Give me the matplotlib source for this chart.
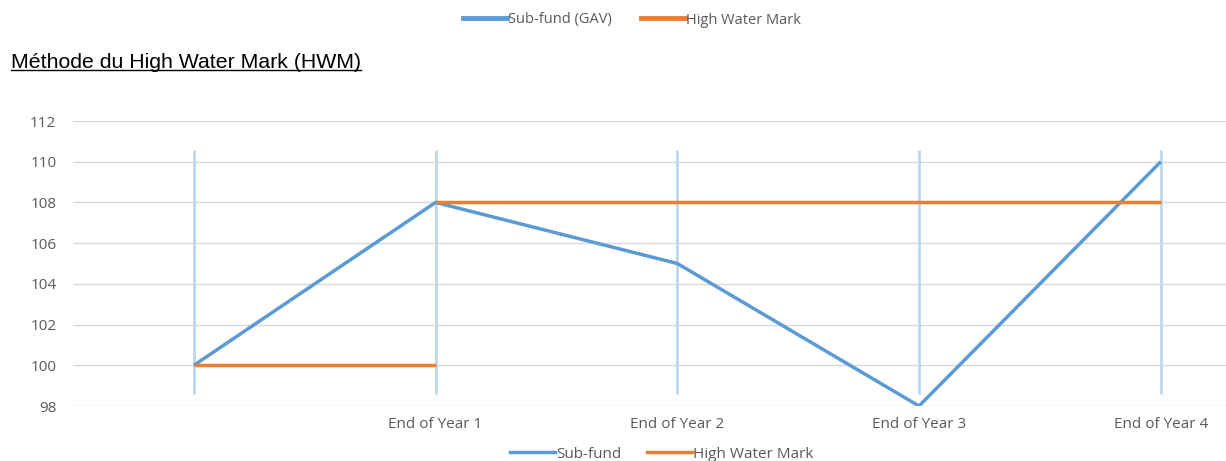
import matplotlib
matplotlib.use("Agg")
import matplotlib.pyplot as plt
import numpy as np
from matplotlib.lines import Line2D

# data
categories = ["", "End of Year 1", "End of Year 2", "End of Year 3", "End of Year 4"]
sub_fund = [100, 108, 105, 98, 110]
hwm_start = [100, 100, np.nan, np.nan, np.nan]
hwm_after = [np.nan, 108, 108, 108, 108]
y_ticks = [98, 100, 102, 104, 106, 108, 110, 112]
drop_low, drop_high = 98.6, 110.6

BLUE = "#5b9bd5"
ORANGE = "#ed7d31"
LIGHT_BLUE = "#bdd7ee"
GRID = "#d9d9d9"
TXT = "#595959"

plt.rcParams["font.family"] = ["Open Sans", "DejaVu Sans"]

fig = plt.figure(figsize=(12.26, 4.61), dpi=100)
ax = fig.add_axes([73 / 1226, 55 / 461, 1 - 73 / 1226, 285 / 461])

x = np.arange(len(categories))

# drop lines at each category
ax.vlines(x, drop_low, drop_high, color=LIGHT_BLUE, lw=2, zorder=2)

ax.plot(x, sub_fund, color=BLUE, lw=2.5, zorder=3, solid_capstyle="butt")
ax.plot(x, hwm_start, color=ORANGE, lw=2.5, zorder=3, solid_capstyle="butt")
ax.plot(x, hwm_after, color=ORANGE, lw=2.5, zorder=3, solid_capstyle="butt")

ax.set_xlim(-0.5, 4.27)
ax.set_ylim(98, 112)
ax.set_yticks(y_ticks)
ax.set_xticks(x)
ax.set_xticklabels(categories)
ax.yaxis.grid(True, color=GRID, lw=1)
ax.set_axisbelow(True)
for s in ax.spines.values():
    s.set_visible(False)
ax.tick_params(length=0, colors=TXT, labelsize=11)
ax.tick_params(axis="y", pad=12)
ax.tick_params(axis="x", pad=8)

# title with underline
title = fig.text(11 / 1226, 1 - 62 / 461, "Méthode du High Water Mark (HWM)",
                 family="Liberation Sans", fontsize=15.3, color="black", va="center", ha="left")
fig.canvas.draw()
bb = title.get_window_extent().transformed(fig.transFigure.inverted())
fig.add_artist(Line2D([bb.x0, bb.x1], [bb.y0 + 0.004, bb.y0 + 0.004],
                      transform=fig.transFigure, color="black", lw=1))

# top legend
top_handles = [Line2D([], [], color=BLUE, lw=3.5), Line2D([], [], color=ORANGE, lw=3.5)]
fig.legend(top_handles, ["Sub-fund (GAV)", "High Water Mark"], loc="center",
           bbox_to_anchor=(632 / 1226, 1 - 20 / 461), ncol=2, frameon=False,
           fontsize=10.5, labelcolor=TXT, handlelength=3.0, handletextpad=0.1, columnspacing=2.0)

# bottom legend
bot_handles = [Line2D([], [], color=BLUE, lw=2.5), Line2D([], [], color=ORANGE, lw=2.5)]
fig.legend(bot_handles, ["Sub-fund", "High Water Mark"], loc="center",
           bbox_to_anchor=(662 / 1226, 1 - 454 / 461), ncol=2, frameon=False,
           fontsize=11, labelcolor=TXT, handlelength=2.9, handletextpad=0.1, columnspacing=1.7)

fig.savefig("out.png", dpi=100)
